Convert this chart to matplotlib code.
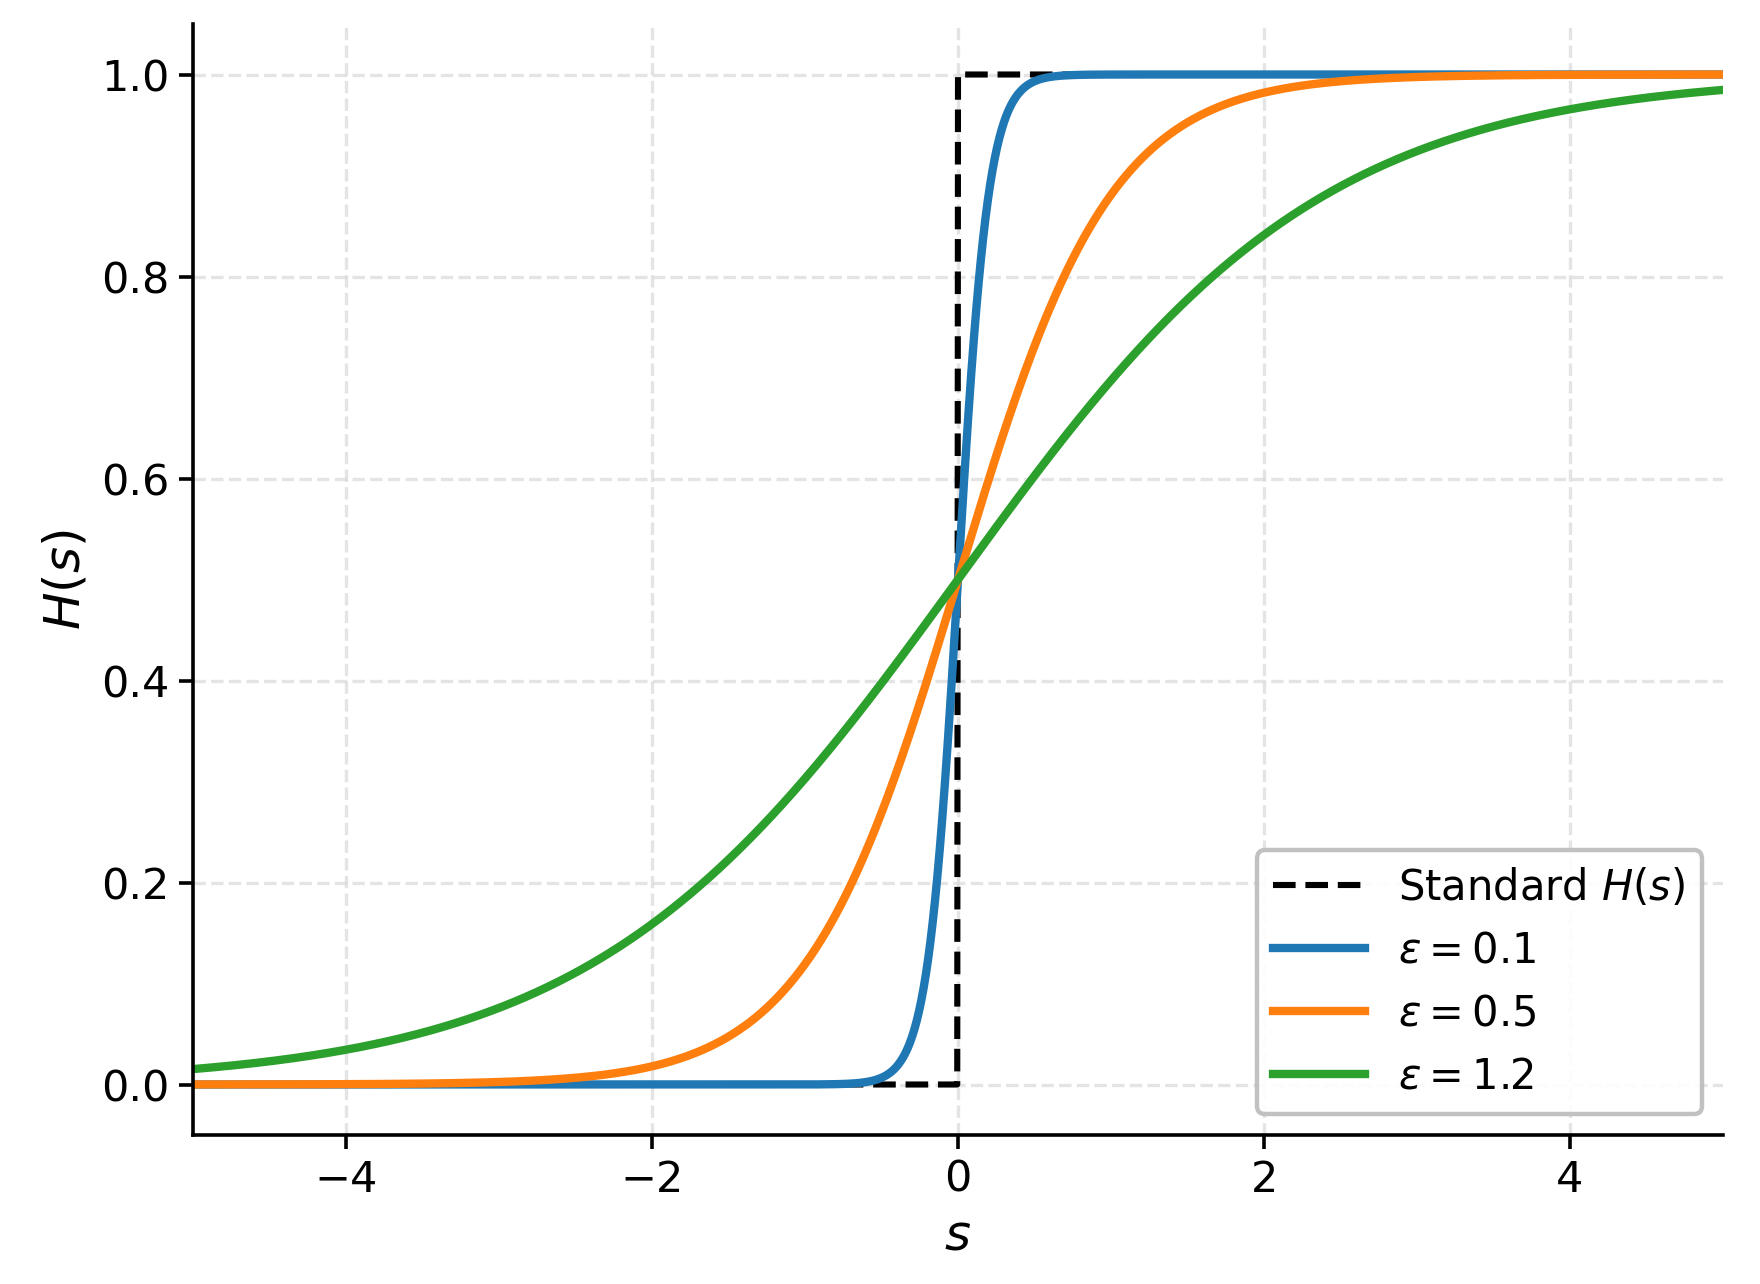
import numpy as np
import matplotlib
matplotlib.use("Agg")
import matplotlib.pyplot as plt

# smoothing widths for the regularised Heaviside curves
eps_values = [0.1, 0.5, 1.2]
eps_colors = ["#1f77b4", "#ff7f0e", "#2ca02c"]
s_range = (-5, 5)
y_ticks = [0.0, 0.2, 0.4, 0.6, 0.8, 1.0]
x_ticks = [-4, -2, 0, 2, 4]

s = np.linspace(s_range[0], s_range[1], 2001)
H_std = np.where(s < 0, 0.0, 1.0)

fig = plt.figure(figsize=(8.8, 6.42), dpi=200)
ax = fig.add_axes([193 / 1760, 1 - 1135 / 1284, (1723 - 193) / 1760, (1135 - 24) / 1284])

ax.plot(s, H_std, "k--", lw=2.2, label="Standard $H(s)$")
for eps, c in zip(eps_values, eps_colors):
    H = 1.0 / (1.0 + np.exp(-s / eps))
    ax.plot(s, H, color=c, lw=3, label=r"$\varepsilon = %g$" % eps)

ax.set_xlim(*s_range)
ax.set_ylim(-0.05, 1.05)
ax.set_xticks(x_ticks)
ax.set_yticks(y_ticks)
ax.tick_params(labelsize=15.5, width=1.3, length=5)
ax.set_xlabel("$s$", fontsize=18)
ax.set_ylabel("$H(s)$", fontsize=18)
ax.grid(True, ls="--", color="#d9d9d9", alpha=0.7, lw=1.2)
for side in ["top", "right"]:
    ax.spines[side].set_visible(False)
for side in ["left", "bottom"]:
    ax.spines[side].set_linewidth(1.3)

leg = ax.legend(loc="lower right", fontsize=15, framealpha=0.9, edgecolor="#bbbbbb",
                handlelength=2.2, labelspacing=0.5)
leg.get_frame().set_linewidth(1.6)

fig.savefig("out.png", dpi=200)
